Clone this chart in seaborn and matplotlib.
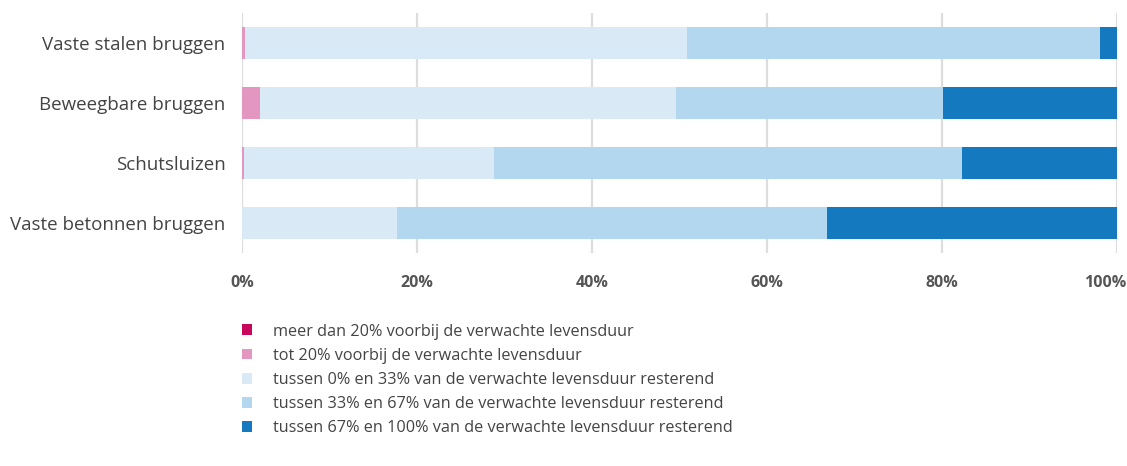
import matplotlib
matplotlib.use("Agg")
import matplotlib.pyplot as plt
import matplotlib.transforms as mtransforms
import seaborn as sns
import pandas as pd
import numpy as np

categories = ["Vaste stalen bruggen", "Beweegbare bruggen", "Schutsluizen", "Vaste betonnen bruggen"]
series_labels = [
    "meer dan 20% voorbij de verwachte levensduur",
    "tot 20% voorbij de verwachte levensduur",
    "tussen 0% en 33% van de verwachte levensduur resterend",
    "tussen 33% en 67% van de verwachte levensduur resterend",
    "tussen 67% en 100% van de verwachte levensduur resterend",
]
meer_dan_20 = [0.0, 0.0, 0.0, 0.0]
tot_20 = [0.3, 2.1, 0.2, 0.0]
tussen_0_33 = [50.6, 47.5, 28.6, 17.7]
tussen_33_67 = [47.2, 30.5, 53.5, 49.2]
tussen_67_100 = [1.9, 19.9, 17.7, 33.1]
tick_values = [0, 20, 40, 60, 80, 100]
tick_labels = ["0%", "20%", "40%", "60%", "80%", "100%"]

colors = ["#c8065c", "#e396c0", "#d9eaf6", "#b3d7ee", "#1479be"]

sns.set_theme(style="white")
plt.rcParams["font.family"] = ["Open Sans", "DejaVu Sans"]

series = [meer_dan_20, tot_20, tussen_0_33, tussen_33_67, tussen_67_100]
cum = np.cumsum(np.array(series), axis=0)

fig = plt.figure(figsize=(11.27, 4.66), dpi=100)
ax = fig.add_axes([242 / 1127, 1 - 253 / 466, 875 / 1127, 240 / 466])

for g in tick_values:
    ax.axvline(g, color="#dddddd", lw=1.6, zorder=0)

for i in reversed(range(len(series))):
    df = pd.DataFrame({"cat": categories, "val": cum[i]})
    sns.barplot(data=df, y="cat", x="val", order=categories, color=colors[i],
                orient="h", width=0.52, ax=ax, saturation=1, label=series_labels[i],
                zorder=2, edgecolor="none", linewidth=0)

if ax.get_legend() is not None:
    ax.get_legend().remove()

ax.set_xlim(0, 100)
ax.set_ylim(3.5, -0.5)
ax.set_xlabel("")
ax.set_ylabel("")
for s in ax.spines.values():
    s.set_visible(False)
ax.set_xticks(tick_values)
ax.set_xticklabels(tick_labels, fontsize=11.5, fontweight="bold", color="#555555")
ax.tick_params(axis="x", length=0, pad=16)
ax.tick_params(axis="y", length=0, pad=12, labelsize=13.5, labelcolor="#444444")
last = ax.get_xticklabels()[-1]
last.set_transform(last.get_transform() + mtransforms.ScaledTranslation(-12 / 100, 0, fig.dpi_scale_trans))

h, l = ax.get_legend_handles_labels()
order = [l.index(s) for s in series_labels]
leg = fig.legend([h[k] for k in order], [l[k] for k in order],
                 loc="upper left", bbox_to_anchor=(227 / 1127, 1 - 309 / 466),
                 frameon=False, fontsize=11.7, labelcolor="#444444",
                 handlelength=0.65, handleheight=0.65, handletextpad=1.3,
                 labelspacing=0.5)

fig.savefig("out.png", dpi=100)
